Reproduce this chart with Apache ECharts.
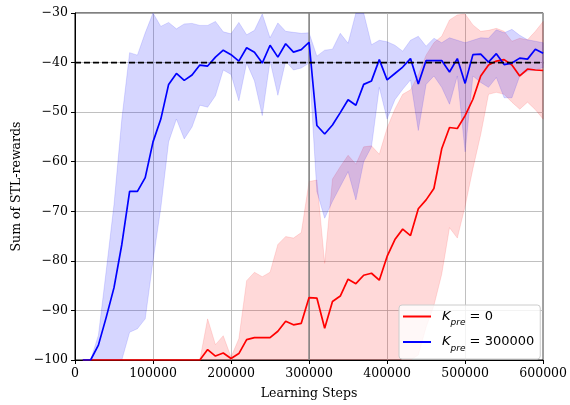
<!DOCTYPE html>
<html>
<head>
<meta charset="utf-8">
<script src="https://cdn.jsdelivr.net/npm/echarts@6/dist/echarts.min.js"></script>
<style>html,body{margin:0;padding:0;background:#fff}#c{width:570px;height:405px}</style>
</head>
<body>
<div id="c"></div>
<script>
// Learning steps (x values)
const steps = [10000,20000,30000,40000,50000,60000,70000,80000,90000,100000,
110000,120000,130000,140000,150000,160000,170000,180000,190000,200000,
210000,220000,230000,240000,250000,260000,270000,280000,290000,300000,
310000,320000,330000,340000,350000,360000,370000,380000,390000,400000,
410000,420000,430000,440000,450000,460000,470000,480000,490000,500000,
510000,520000,530000,540000,550000,560000,570000,580000,590000,600000];

// K_pre = 0 (red)
const redMean = [-100,-100,-100,-100,-100,-100,-100,-100,-100,-100,
-100,-100,-100,-100,-100,-100,-97.9,-99.2,-98.6,-99.7,
-98.7,-95.9,-95.5,-95.5,-95.5,-94.2,-92.2,-92.9,-92.6,-87.4,
-87.5,-93.6,-88.2,-87.1,-83.7,-84.6,-82.9,-82.5,-83.9,-79.1,
-75.7,-73.6,-74.9,-69.5,-67.7,-65.4,-57.4,-53.1,-53.3,-50.7,
-47.4,-42.7,-40.5,-39.7,-39.4,-40.5,-42.7,-41.3,-41.5,-41.6];
const redUpper = [-100,-100,-100,-100,-100,-100,-100,-100,-100,-100,
-100,-100,-100,-100,-100,-100,-91.7,-96.9,-95.1,-99.4,
-95.7,-84,-82.3,-83.2,-82.3,-76.7,-75.1,-75.4,-74.3,-64,
-63.7,-80.5,-63.5,-61,-58.7,-60.5,-57,-56.8,-58.5,-53.2,
-49.4,-46.4,-45.5,-42.5,-38.5,-36,-34.7,-31.4,-30.4,-30.2,
-32.4,-33.7,-33.5,-33.1,-33.7,-35.7,-35.1,-35.4,-33.7,-31.7];
const redLower = [-100,-100,-100,-100,-100,-100,-100,-100,-100,-100,
-100,-100,-100,-100,-100,-100,-100,-100,-100,-100,
-100,-100,-100,-100,-100,-100,-100,-100,-100,-100,
-100,-100,-100,-100,-100,-100,-100,-100,-100,-100,
-100,-100,-100,-99,-93.4,-89,-82.7,-73.3,-75.4,-69,
-61.4,-54.5,-46.4,-46,-46.4,-48,-49.4,-48,-49.5,-51.4];

// K_pre = 300000 (blue)
const blueMean = [-100,-100,-97,-91.4,-85.4,-76.7,-66,-66,-63.2,-56,
-51.4,-44.4,-42.2,-43.6,-42.5,-40.5,-40.7,-38.9,-37.5,-38.4,
-39.7,-37,-37.9,-40.1,-36.5,-38.9,-36.2,-37.9,-37.4,-35.9,
-52.7,-54.4,-52.6,-50.1,-47.5,-48.6,-44.4,-43.7,-39.4,-43.5,
-42.2,-40.9,-39.2,-44.3,-39.6,-39.6,-39.6,-41.9,-39.2,-44.2,
-38.4,-38.3,-39.9,-38.2,-40.4,-40.1,-39.1,-39.3,-37.3,-38.1];
const blueUpper = [-100,-100,-95,-82,-68.6,-51.4,-38,-38.5,-34,-30,
-32.7,-31.9,-33.2,-32.2,-32.1,-32.5,-32.5,-31.7,-33.8,-34.2,
-31.9,-34.4,-33.5,-30.2,-35,-32,-33.7,-33.9,-34.1,-34,
-38.7,-37.5,-37.3,-34.1,-36.1,-30,-30,-36.4,-35.5,-35.8,
-36.5,-37.7,-35.5,-34.7,-36.7,-35.1,-36,-35,-35.5,-36,
-35.5,-35,-35.1,-33.4,-34,-33.3,-34.5,-35.4,-35.7,-36];
const blueLower = [-100,-100,-100,-100,-100,-100,-94.4,-93.7,-91.7,-80,
-69.3,-56,-51.4,-55.4,-53,-48.6,-49,-46.7,-41.5,-42.4,
-47.7,-40.1,-43.7,-50.7,-39.7,-46.6,-39.7,-41.5,-41.1,-40.1,
-66,-71.4,-68,-65,-62,-67.7,-60,-57,-45,-51.4,
-47.5,-45.4,-43.5,-53.7,-44.4,-42.7,-45,-48.4,-42.7,-58,
-42.7,-44,-45,-43,-47.1,-47.1,-42.7,-41.7,-41.5,-41];

const xTicks = [0,100000,200000,300000,400000,500000,600000];
const yTicks = [-100,-90,-80,-70,-60,-50,-40,-30];
const targetLevel = -40;
const kpreStep = 300000;
const seriesNames = ['K0', 'K300000'];
const legendValues = ['0', '300000'];

const serif = 'DejaVu Serif';
const sans = 'DejaVu Sans';

function band(lower, upper, color) {
  return {
    type: 'custom', coordinateSystem: 'cartesian2d', clip: true, silent: true, z: 1,
    data: [[steps[0], lower[0]]],
    renderItem: function (params, api) {
      const pts = [];
      for (let i = 0; i < steps.length; i++) pts.push(api.coord([steps[i], upper[i]]));
      for (let i = steps.length - 1; i >= 0; i--) pts.push(api.coord([steps[i], lower[i]]));
      return { type: 'polygon', shape: { points: pts },
        style: { fill: color, stroke: color, lineWidth: 0.8 } };
    }
  };
}
function pairs(ys) { return steps.map((s, i) => [s, ys[i]]); }

const chart = echarts.init(document.getElementById('c'), null, { renderer: 'canvas' });
chart.setOption({
  animation: false,
  backgroundColor: '#fff',
  grid: { left: 75, right: 25, top: 13, bottom: 42, show: true, borderColor: '#000', borderWidth: 1, backgroundColor: 'transparent' },
  xAxis: {
    type: 'value', min: xTicks[0], max: xTicks[xTicks.length - 1], interval: 100000,
    name: 'Learning Steps', nameLocation: 'middle', nameGap: 27,
    nameTextStyle: { fontFamily: serif, fontSize: 12.5, color: '#000' },
    axisLine: { show: true, lineStyle: { color: '#000', width: 1 } },
    axisTick: { show: true, inside: false, length: 4, lineStyle: { color: '#000' } },
    axisLabel: { fontFamily: serif, fontSize: 12.5, color: '#000', margin: 7, formatter: v => String(v) },
    splitLine: { show: true, lineStyle: { color: '#b0b0b0', width: 0.8 } }
  },
  yAxis: {
    type: 'value', min: yTicks[0], max: yTicks[yTicks.length - 1], interval: 10,
    name: 'Sum of STL-rewards', nameLocation: 'middle', nameGap: 50,
    nameTextStyle: { fontFamily: serif, fontSize: 12.5, color: '#000' },
    axisLine: { show: true, lineStyle: { color: '#000', width: 1 } },
    axisTick: { show: true, inside: false, length: 4, lineStyle: { color: '#000' } },
    axisLabel: { fontFamily: serif, fontSize: 12.5, color: '#000', margin: 7,
      formatter: v => (v < 0 ? '\u2212' : '') + Math.abs(v) },
    splitLine: { show: true, lineStyle: { color: '#b0b0b0', width: 0.8 } }
  },
  legend: {
    data: seriesNames.map(n => ({ name: n, icon: 'rect' })),
    orient: 'vertical', left: 399, top: 305,
    backgroundColor: 'rgba(255,255,255,0.8)', borderColor: '#cccccc', borderWidth: 1, borderRadius: 3,
    padding: [5, 6, 6, 4], itemGap: 8, itemWidth: 28, itemHeight: 2,
    textStyle: { fontFamily: sans, fontSize: 13, color: '#000', padding: [0, 0, 0, 6],
      rich: {
        k: { fontFamily: sans, fontStyle: 'italic', fontSize: 13, color: '#000', lineHeight: 16 },
        s: { fontFamily: sans, fontStyle: 'italic', fontSize: 9, color: '#000', verticalAlign: 'bottom', lineHeight: 16, padding: [0, 0, -3, 0] },
        t: { fontFamily: sans, fontSize: 13, color: '#000', lineHeight: 16 }
      } },
    formatter: function (name) {
      const idx = seriesNames.indexOf(name);
      return '{k|K}{s|pre}{t| = ' + legendValues[idx] + '}';
    }
  },
  series: [
    band(redLower, redUpper, 'rgba(255,0,0,0.15)'),
    band(blueLower, blueUpper, 'rgba(0,0,255,0.16)'),
    { name: seriesNames[0], type: 'line', data: pairs(redMean), symbol: 'none', showSymbol: false,
      lineStyle: { color: '#ff0000', width: 1.7 }, itemStyle: { color: '#ff0000' }, z: 3 },
    { name: seriesNames[1], type: 'line', data: pairs(blueMean), symbol: 'none', showSymbol: false,
      lineStyle: { color: '#0000ff', width: 1.7 }, itemStyle: { color: '#0000ff' }, z: 4 },
    { type: 'line', data: [[kpreStep, yTicks[0]], [kpreStep, yTicks[yTicks.length - 1]]], symbol: 'none',
      lineStyle: { color: '#808080', width: 1.5 }, silent: true, z: 2 },
    { type: 'line', data: [[xTicks[0], targetLevel], [xTicks[xTicks.length - 1], targetLevel]], symbol: 'none',
      lineStyle: { color: '#000', width: 1.8, type: [6, 3] }, silent: true, z: 5 }
  ]
});
</script>
</body>
</html>
